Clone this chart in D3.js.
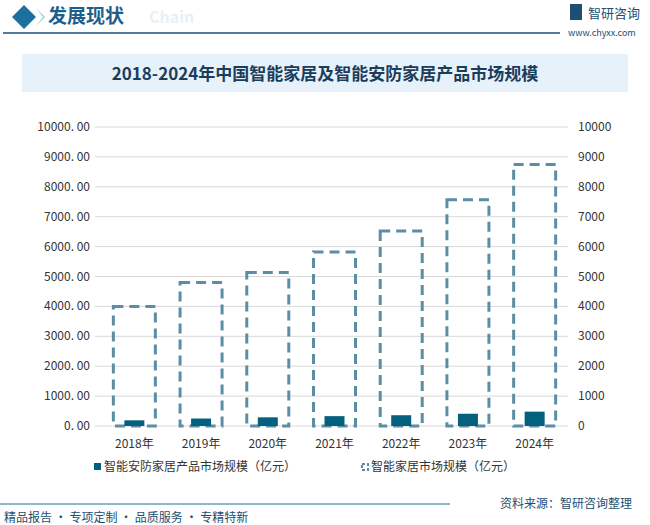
<!DOCTYPE html><html><head><meta charset="utf-8"><script src="https://cdn.jsdelivr.net/npm/d3@7"></script>
<style>body{margin:0;background:#fff}text{font-family:"Noto Sans CJK SC",sans-serif}</style></head><body>
<svg id="c" width="650" height="525"></svg>
<script>
const categories=["2018年","2019年","2020年","2021年","2022年","2023年","2024年"];
const securityValues=[190,250,290,330,360,410,480];
const smartHomeValues=[4000,4800,5130,5820,6520,7570,8750];
const leftTicks=[0,1000,2000,3000,4000,5000,6000,7000,8000,9000,10000];
const svg=d3.select("#c");
svg.append("path").attr("d","M24 5 L36 17 L24 29 L12 17Z").attr("fill","#1d6fa0");
svg.append("path").attr("d","M36 8 L45 17 L36 26 L43 17Z").attr("fill","#9ec6de");
svg.append("text").attr("x",149).attr("y",23).text("Chain").attr("font-size",16).attr("font-weight","bold").attr("fill","#e8f0f7");
svg.append("text").attr("x",48).attr("y",23).text("发展现状").attr("font-size",19).attr("font-weight","bold").attr("fill","#1d5f8c");
svg.append("line").attr("x1",3).attr("x2",560).attr("y1",33).attr("y2",33).attr("stroke","#1d4f73").attr("stroke-width",1.5);
svg.append("rect").attr("x",570).attr("y",4).attr("width",12).attr("height",16).attr("fill","#1d4f73");
svg.append("text").attr("x",588).attr("y",18).text("智研咨询").attr("font-size",13).attr("fill","#1d4f73");
svg.append("text").attr("x",568).attr("y",36).text("www.chyxx.com").attr("font-size",9).attr("fill","#1d4f73");
svg.append("rect").attr("x",22).attr("y",54).attr("width",606).attr("height",38).attr("fill","#e6f1fa");
svg.append("text").attr("x",325).attr("y",80).attr("text-anchor","middle").text("2018-2024年中国智能家居及智能安防家居产品市场规模").attr("font-size",17).attr("font-weight","bold").attr("fill","#1b3d5c").attr("font-family","Noto Serif CJK SC,Noto Sans CJK SC,serif");
const x=d3.scaleBand().domain(categories).range([101,568]);
const y=d3.scaleLinear().domain([0,10000]).range([426,127]);
const g=svg.append("g");
g.selectAll(".gl").data(leftTicks).join("line").attr("x1",95).attr("x2",568).attr("y1",d=>y(d)).attr("y2",d=>y(d)).attr("stroke","#d9d9d9");
g.selectAll(".lt").data(leftTicks).join("text").attr("x",90).attr("y",d=>y(d)+4).attr("text-anchor","end").attr("font-size",12).attr("fill","#333").attr("font-family","DejaVu Sans Mono,monospace").text(d=>d.toFixed(2).replace(".",". "));
g.selectAll(".rt").data(leftTicks).join("text").attr("x",578).attr("y",d=>y(d)+4).attr("font-size",12).attr("fill","#333").text(d=>d);
const bw=42;
g.selectAll(".db").data(smartHomeValues).join("rect").attr("x",(d,i)=>x(categories[i])+x.bandwidth()/2-bw/2).attr("width",bw).attr("y",d=>y(d)).attr("height",d=>426-y(d)).attr("fill","none").attr("stroke","#5b8ea6").attr("stroke-width",3).attr("stroke-dasharray","10,6");
const sw=20;
g.selectAll(".sb").data(securityValues).join("rect").attr("x",(d,i)=>x(categories[i])+x.bandwidth()/2-sw/2).attr("width",sw).attr("y",d=>y(d)).attr("height",d=>426-y(d)).attr("fill","#04607f");
g.selectAll(".xl").data(categories).join("text").attr("x",d=>x(d)+x.bandwidth()/2).attr("y",448).attr("text-anchor","middle").attr("font-size",12).attr("fill","#333").text(d=>d);
svg.append("rect").attr("x",94).attr("y",463).attr("width",7).attr("height",7).attr("fill","#04607f");
svg.append("text").attr("x",104).attr("y",471).text("智能安防家居产品市场规模（亿元）").attr("font-size",12).attr("fill","#333");
svg.append("rect").attr("x",362).attr("y",464).attr("width",6).attr("height",6).attr("fill","none").attr("stroke","#5b8ea6").attr("stroke-width",2).attr("stroke-dasharray","3,2");
svg.append("text").attr("x",371).attr("y",471).text("智能家居市场规模（亿元）").attr("font-size",12).attr("fill","#333");
svg.append("line").attr("x1",0).attr("x2",450).attr("y1",504).attr("y2",504).attr("stroke","#1d6fa0");
svg.append("text").attr("x",4).attr("y",522).text("精品报告 · 专项定制 · 品质服务 · 专精特新").attr("font-size",12).attr("fill","#1d4f73");
svg.append("text").attr("x",500).attr("y",508).text("资料来源：智研咨询整理").attr("font-size",12).attr("fill","#1d4f73");
</script></body></html>
